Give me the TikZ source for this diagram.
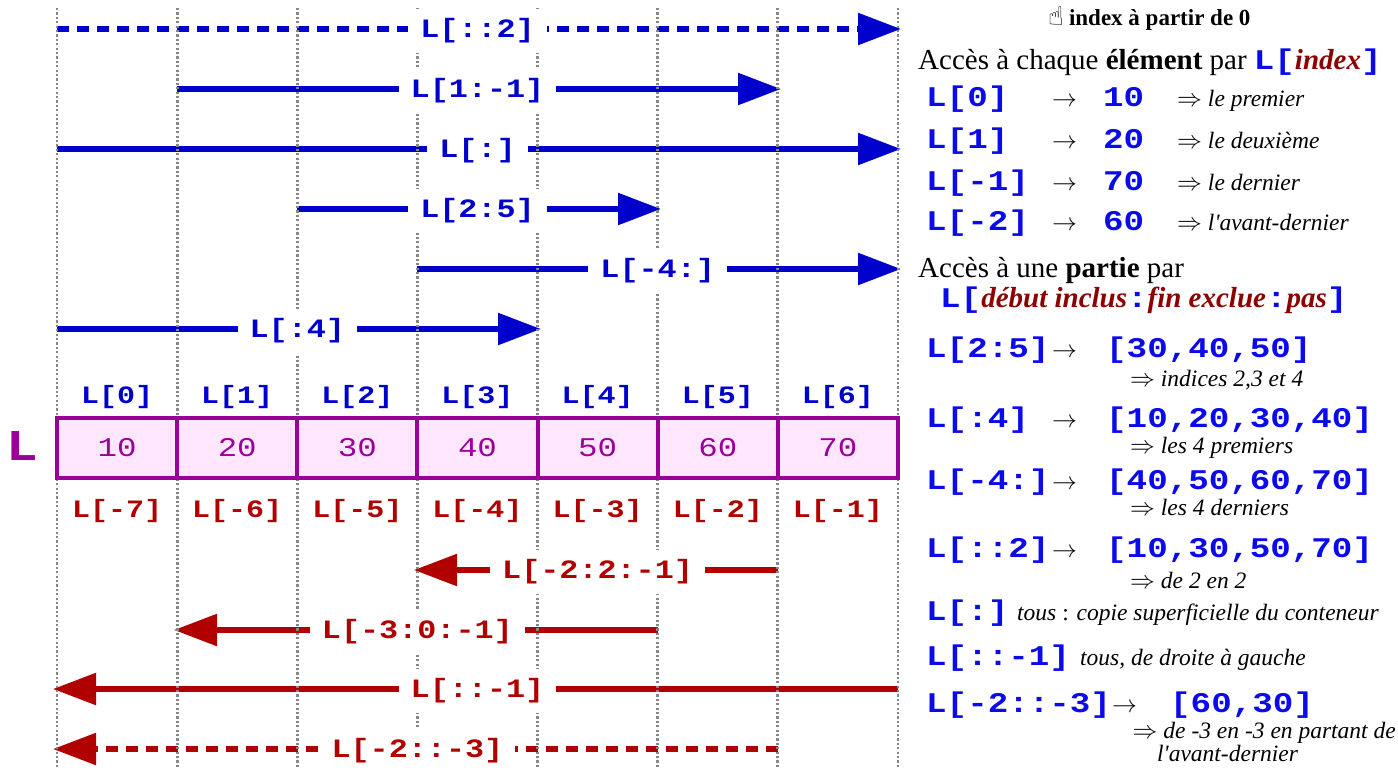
\documentclass[tikz,border=0pt]{standalone}
\usepackage{fontspec}
\setmainfont{Liberation Serif}
\newfontfamily\monof{Liberation Mono}[FakeStretch=1.2]
\newfontfamily\symf{DejaVu Sans}
\usetikzlibrary{arrows.meta}
\definecolor{ablue}{RGB}{0,0,204}
\definecolor{tblue}{RGB}{10,10,235}
\definecolor{ared}{RGB}{176,0,0}
\definecolor{tred}{RGB}{140,0,0}
\definecolor{apurple}{RGB}{153,0,153}
\definecolor{apink}{RGB}{255,230,255}
\definecolor{agray}{RGB}{135,135,135}
\begin{document}
\begin{tikzpicture}[x=1pt,y=-1pt,
  gridline/.style={agray, line width=2.8pt, dash pattern=on 2.2pt off 2.2pt},
  barrow/.style={ablue, line width=5.5pt, -{Triangle[length=43pt,width=31pt]}},
  rarrow/.style={ared, line width=5.5pt, -{Triangle[length=43pt,width=31pt]}},
  dashline/.style={dash pattern=on 12pt off 8pt},
  lab/.style={fill=white, font=\monof\bfseries\fontsize{26.5}{26.5}\selectfont, inner xsep=12pt, inner ysep=0pt, minimum height=44pt},
  blab/.style={lab, text=ablue},
  rlab/.style={lab, text=ared},
  cell/.style={draw=apurple, line width=4pt, fill=apink, minimum width=120.14pt, minimum height=60pt, inner sep=0pt, text=apurple, font=\monof\fontsize{27}{27}\selectfont},
  idx/.style={anchor=base, inner sep=0pt, font=\monof\bfseries\fontsize{25}{25}\selectfont},
  rt/.style={anchor=base west, inner sep=0pt, font=\fontsize{29}{29}\selectfont},
  rm/.style={anchor=base west, inner sep=0pt, text=tblue, font=\monof\bfseries\fontsize{28.5}{28.5}\selectfont},
  ri/.style={anchor=base west, inner sep=0pt, font=\itshape\fontsize{23.5}{23.5}\selectfont},
  arr/.style={anchor=base west, inner sep=0pt, font=\fontsize{27}{27}\selectfont},
]
\useasboundingbox (0,0) rectangle (1398,769);
% ---------- arrow end points
\coordinate (a1s) at (57,29);     \coordinate (a1e) at (901,29);
\coordinate (a2s) at (177.14,89); \coordinate (a2e) at (781,89);
\coordinate (a3s) at (57,149);    \coordinate (a3e) at (901,149);
\coordinate (a4s) at (297.28,209); \coordinate (a4e) at (661,209);
\coordinate (a5s) at (417.42,269); \coordinate (a5e) at (901,269);
\coordinate (a6s) at (57,329);    \coordinate (a6e) at (541,329);
\coordinate (a7s) at (777.84,570); \coordinate (a7e) at (414,570);
\coordinate (a8s) at (657.7,630);  \coordinate (a8e) at (174,630);
\coordinate (a9s) at (897.98,689); \coordinate (a9e) at (53,689);
\coordinate (a10s) at (777.84,749); \coordinate (a10e) at (53,749);
\draw[barrow,dashline] (a1s) -- (a1e);
\draw[barrow] (a2s) -- (a2e);
\draw[barrow] (a3s) -- (a3e);
\draw[barrow] (a4s) -- (a4e);
\draw[barrow] (a5s) -- (a5e);
\draw[barrow] (a6s) -- (a6e);
\draw[rarrow] (a7s) -- (a7e);
\draw[rarrow] (a8s) -- (a8e);
\draw[rarrow] (a9s) -- (a9e);
\draw[rarrow,dashline] (a10s) -- (a10e);
% ---------- dotted grid
\foreach \i in {0,...,7} {
  \coordinate (gt\i) at ({57+120.14*\i},8);
  \coordinate (gb\i) at ({57+120.14*\i},769);
  \draw[gridline] (gt\i) -- (gb\i);
}
% ---------- arrow labels
\node[blab] (l1) at (477.5,31) {L[::2]};
\node[blab] (l2) at (477.5,91) {L[1:-1]};
\node[blab] (l3) at (477.5,151) {L[:]};
\node[blab] (l4) at (477.5,211) {L[2:5]};
\node[blab] (l5) at (657.7,271) {L[-4:]};
\node[blab] (l6) at (297.3,331) {L[:4]};
\node[rlab] (l7) at (597.6,572) {L[-2:2:-1]};
\node[rlab] (l8) at (417.4,632) {L[-3:0:-1]};
\node[rlab] (l9) at (477.5,691) {L[::-1]};
\node[rlab] (l10) at (417.4,751) {L[-2::-3]};
% ---------- list cells
\foreach \v [count=\i from 0] in {10,20,30,40,50,60,70} {
  \node[cell] (c\i) at ({117.07+120.14*\i},448) {\v};
  \node[idx, text=ablue] (p\i) at ({117.07+120.14*\i},403) {L[\i]};
}
\foreach \n [count=\i from 0] in {-7,-6,-5,-4,-3,-2,-1} {
  \node[idx, text=ared] (n\i) at ({117.07+120.14*\i},517) {L[\n]};
}
\node[anchor=base, inner sep=0pt, text=apurple, font=\monof\bfseries\fontsize{44}{44}\selectfont] (bigL) at (22,460) {L};
% ---------- right column
\node[anchor=base west, inner sep=0pt, font=\bfseries\fontsize{23}{23}\selectfont] (title) at (1048,25) {{\symf\mdseries\fontsize{26}{26}\selectfont ☝}\hspace{5pt}index à partir de 0};
\node[rt] (acc1) at (918,69) {Accès à chaque \textbf{élément} par {\color{tblue}\monof\bfseries\fontsize{28.5}{28.5}\selectfont L[}{\color{tred}\bfseries\itshape index}{\color{tblue}\monof\bfseries\fontsize{28.5}{28.5}\selectfont ]}};
\node[rm] (r0) at (926,106) {L[0]};
\node[arr] (ar0) at (1052,106) {$\rightarrow$};
\node[rm] (v0) at (1103,106) {10};
\node[ri] (t0) at (1177,106) {$\Rightarrow$ le premier};
\node[rm] (r1) at (926,148) {L[1]};
\node[arr] (ar1) at (1052,148) {$\rightarrow$};
\node[rm] (v1) at (1103,148) {20};
\node[ri] (t1) at (1177,148) {$\Rightarrow$ le deuxième};
\node[rm] (r2) at (926,190) {L[-1]};
\node[arr] (ar2) at (1052,190) {$\rightarrow$};
\node[rm] (v2) at (1103,190) {70};
\node[ri] (t2) at (1177,190) {$\Rightarrow$ le dernier};
\node[rm] (r3) at (926,230) {L[-2]};
\node[arr] (ar3) at (1052,230) {$\rightarrow$};
\node[rm] (v3) at (1103,230) {60};
\node[ri] (t3) at (1177,230) {$\Rightarrow$ l\textquotesingle avant-dernier};
\node[rt] (acc2) at (918,277) {Accès à une \textbf{partie} par};
\node[rt] (synt) at (940,307) {{\color{tblue}\monof\bfseries\fontsize{28.5}{28.5}\selectfont L[}{\color{tred}\bfseries\itshape début inclus}{\color{tblue}\monof\bfseries\fontsize{28.5}{28.5}\selectfont :}{\color{tred}\bfseries\itshape fin exclue}{\color{tblue}\monof\bfseries\fontsize{28.5}{28.5}\selectfont :}{\color{tred}\bfseries\itshape pas}{\color{tblue}\monof\bfseries\fontsize{28.5}{28.5}\selectfont ]}};
% slices
\node[rm] (s1) at (926,357) {L[2:5]};
\node[arr] (sa1) at (1052,357) {$\rightarrow$};
\node[rm] (sv1) at (1106,357) {[30,40,50]};
\node[ri] (st1) at (1130,386) {$\Rightarrow$ indices 2,3 et 4};
\node[rm] (s2) at (926,427) {L[:4]};
\node[arr] (sa2) at (1052,427) {$\rightarrow$};
\node[rm] (sv2) at (1106,427) {[10,20,30,40]};
\node[ri] (st2) at (1130,453) {$\Rightarrow$ les 4 premiers};
\node[rm] (s3) at (926,489) {L[-4:]};
\node[arr] (sa3) at (1052,489) {$\rightarrow$};
\node[rm] (sv3) at (1106,489) {[40,50,60,70]};
\node[ri] (st3) at (1130,515) {$\Rightarrow$ les 4 derniers};
\node[rm] (s4) at (926,557) {L[::2]};
\node[arr] (sa4) at (1052,557) {$\rightarrow$};
\node[rm] (sv4) at (1106,557) {[10,30,50,70]};
\node[ri] (st4) at (1130,588) {$\Rightarrow$ de 2 en 2};
\node[rm] (s5) at (926,620) {L[:]};
\node[ri] (st5) at (1017,620) {tous {\upshape:} copie superficielle du conteneur};
\node[rm] (s6) at (926,665) {L[::-1]};
\node[ri] (st6) at (1080,665) {tous, de droite à gauche};
\node[rm] (s7) at (926,712) {L[-2::-3]};
\node[arr] (sa7) at (1112,712) {$\rightarrow$};
\node[rm] (sv7) at (1170,712) {[60,30]};
\node[ri, anchor=base east] (st7) at (1396,738) {$\Rightarrow$ de -3 en -3 en partant de};
\node[ri] (st8) at (1157,761) {l\textquotesingle avant-dernier};
\end{tikzpicture}
\end{document}
